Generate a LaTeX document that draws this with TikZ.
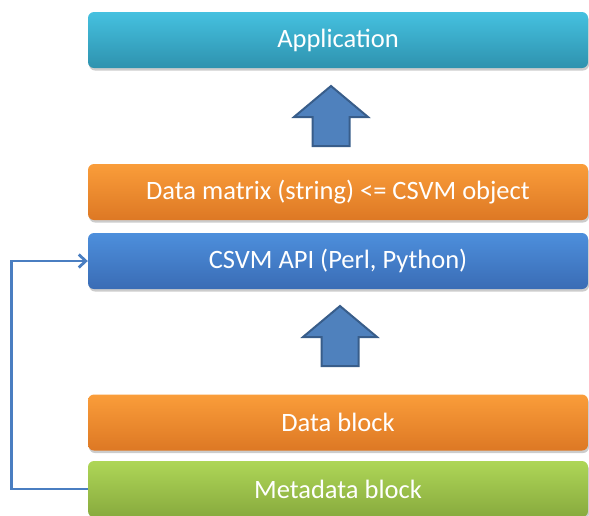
\documentclass[tikz,border=0pt]{standalone}
\usepackage{fontspec}
\setmainfont{Carlito}
\usetikzlibrary{positioning,shadows,arrows.meta}

\definecolor{appTop}{HTML}{45C1E0}
\definecolor{appBot}{HTML}{2E92AE}
\definecolor{orTop}{HTML}{FA9D3A}
\definecolor{orBot}{HTML}{DD7824}
\definecolor{apiTop}{HTML}{4D8FDC}
\definecolor{apiBot}{HTML}{3A6CB5}
\definecolor{grTop}{HTML}{AED657}
\definecolor{grBot}{HTML}{88AA3E}
\definecolor{upFill}{HTML}{4F81BD}
\definecolor{upLine}{HTML}{385D8A}
\definecolor{linkCol}{HTML}{4A7EC1}

\tikzset{
  layer/.style={rounded corners=6pt, minimum width=500pt, minimum height=56pt,
    inner sep=0pt, text=white, font=\fontsize{26.5}{30}\selectfont,
    drop shadow={shadow xshift=1pt, shadow yshift=-2.5pt, opacity=0.4}},
  applayer/.style={layer, top color=appTop, bottom color=appBot},
  orlayer/.style={layer, top color=orTop, bottom color=orBot},
  apilayer/.style={layer, top color=apiTop, bottom color=apiBot},
  grlayer/.style={layer, top color=grTop, bottom color=grBot},
  % block arrow pointing up, origin at its tip
  blockup/.pic={
    \draw[fill=upFill, draw=upLine, line width=2pt, line join=miter]
      (0,0) -- (37,31) -- (18.5,31) -- (18.5,60) -- (-18.5,60) -- (-18.5,31)
      -- (-37,31) -- cycle;
  },
  link/.style={draw=linkCol, line width=2.8pt,
    -{Straight Barb[length=7pt,width=13pt,line width=2.8pt]}}
}

\begin{document}
\begin{tikzpicture}[x=1pt, y=-1pt]
  \useasboundingbox (0,0) rectangle (589,515);
  \node[applayer] (app) at (338,40) {Application};
  \node[orlayer] (matrix) at (338,192) {Data matrix (string) <= CSVM object};
  \node[apilayer] (api) at (338,261) {CSVM API (Perl, Python)};
  \node[orlayer] (datablk) at (338,422.5) {Data block};
  \node[grlayer] (meta) at (338,489) {Metadata block};
  \pic at (331,86) {blockup};
  \pic at (340,306) {blockup};
  \draw[link] (meta.west) -- ++(-76,0) |- (api.west);
\end{tikzpicture}
\end{document}
